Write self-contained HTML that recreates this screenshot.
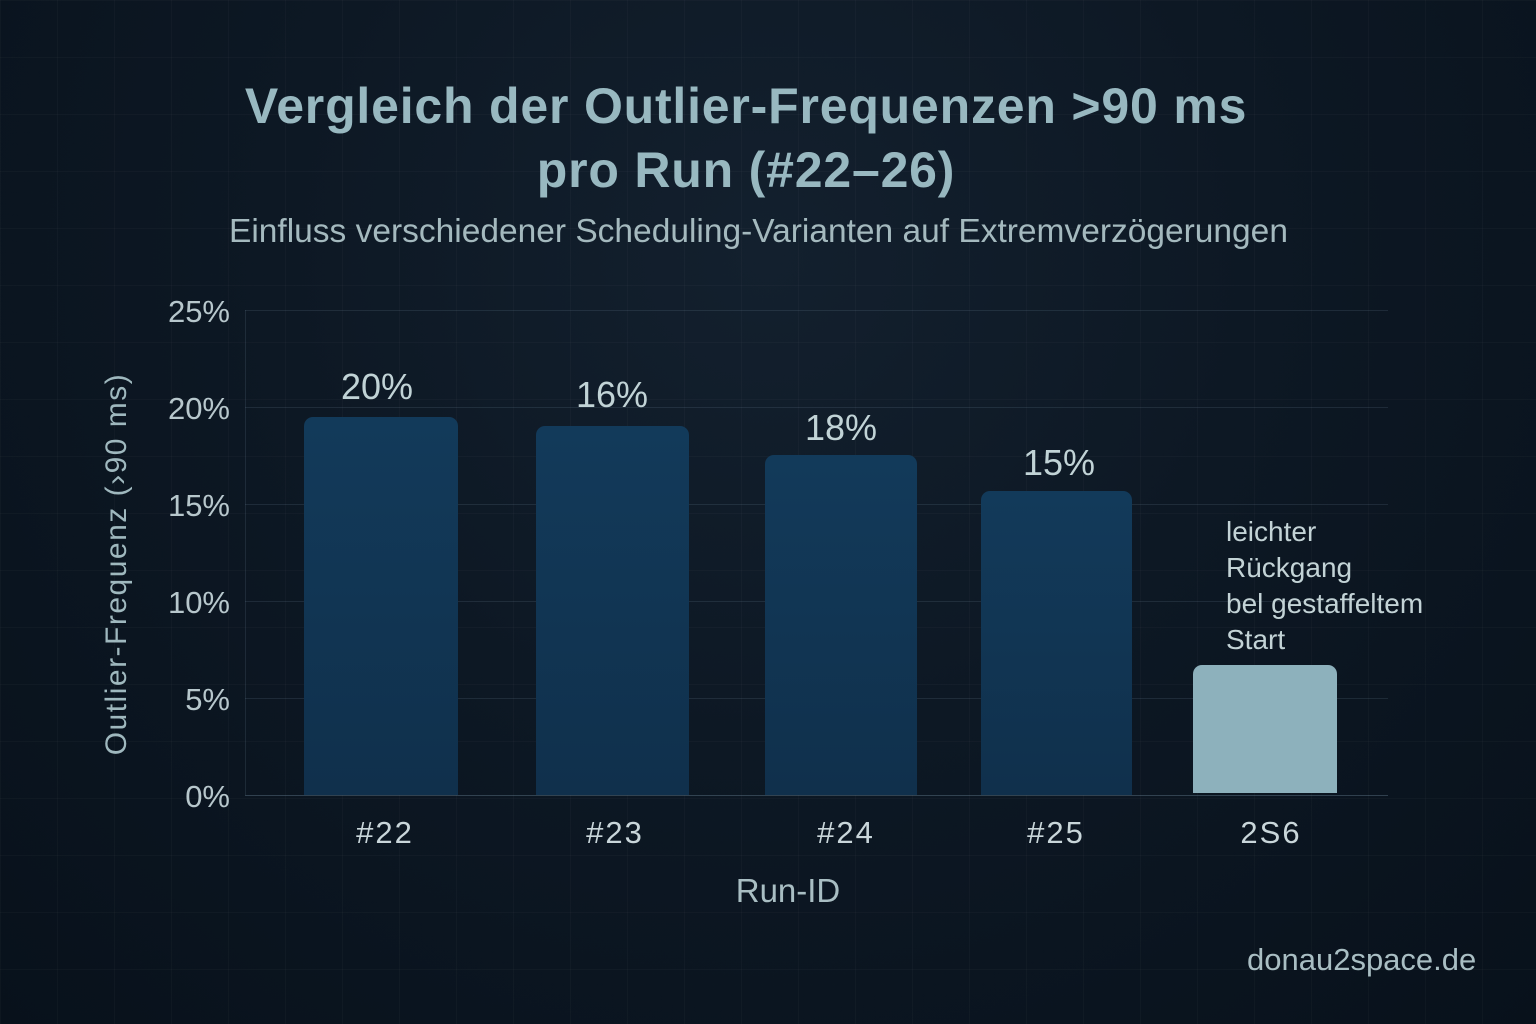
<!DOCTYPE html>
<html><head><meta charset="utf-8"><style>
html,body{margin:0;padding:0}
body{width:1536px;height:1024px;overflow:hidden;position:relative;font-family:"Liberation Sans",sans-serif;
background:radial-gradient(ellipse at 50% 25%,#13202e 0%,#0d1824 45%,#08111b 100%);}
.grid{position:absolute;inset:0;background-image:linear-gradient(rgba(255,255,255,0.025) 1px,transparent 1px),linear-gradient(90deg,rgba(255,255,255,0.025) 1px,transparent 1px);background-size:57px 57px;}
.t{position:absolute;color:#a9c4ca;white-space:nowrap}
.bar{position:absolute;border-radius:9px 9px 0 0;background:linear-gradient(#123a5a,#10304c)}
.hl{position:absolute;left:245px;width:1143px;height:1px;background:rgba(140,170,190,0.14)}
.yl{position:absolute;width:230px;left:0;text-align:right;font-size:31px;color:#b7c7cc}
.xl{position:absolute;font-size:31px;color:#c9d6da;width:160px;text-align:center;letter-spacing:2px}
.vl{position:absolute;font-size:36px;color:#c1d3d6;width:160px;text-align:center}
</style></head><body>
<div class="grid"></div>
<div class="t" style="left:0;width:1492px;text-align:center;top:74px;font-size:50px;letter-spacing:0.8px;font-weight:bold;color:#98b8c0;line-height:64px">Vergleich der Outlier-Frequenzen &gt;90 ms<br>pro Run (#22–26)</div>
<div class="t" style="left:229px;top:213px;font-size:33.5px;color:#a4b9be">Einfluss verschiedener Scheduling-Varianten auf Extremverzögerungen</div>
<div class="hl" style="top:310px"></div><div class="hl" style="top:407px"></div><div class="hl" style="top:504px"></div><div class="hl" style="top:601px"></div><div class="hl" style="top:698px"></div>
<div style="position:absolute;left:245px;top:310px;width:1px;height:485px;background:rgba(140,170,190,0.14)"></div>
<div class="hl" style="top:795px;background:rgba(140,170,190,0.3)"></div>
<div class="yl" style="top:294px">25%</div><div class="yl" style="top:391px">20%</div><div class="yl" style="top:488px">15%</div><div class="yl" style="top:585px">10%</div><div class="yl" style="top:682px">5%</div><div class="yl" style="top:779px">0%</div>
<div class="t" style="left:117px;top:564px;transform:translate(-50%,-50%) rotate(-90deg);font-size:30px;letter-spacing:1.5px;color:#9fb8be">Outlier-Frequenz (›90 ms)</div>
<div class="bar" style="left:304px;top:417px;width:154px;height:378px"></div>
<div class="bar" style="left:536px;top:426px;width:153px;height:369px"></div>
<div class="bar" style="left:765px;top:455px;width:152px;height:340px"></div>
<div class="bar" style="left:981px;top:491px;width:151px;height:304px"></div>
<div class="bar" style="left:1193px;top:665px;width:144px;height:128px;background:#8db1bc"></div>
<div class="vl" style="left:297px;top:366px">20%</div>
<div class="vl" style="left:532px;top:374px">16%</div>
<div class="vl" style="left:761px;top:407px">18%</div>
<div class="vl" style="left:979px;top:442px">15%</div>
<div class="t" style="left:1226px;top:514px;font-size:28px;line-height:36px;color:#c3d3d6">leichter<br>Rückgang<br>bel gestaffeltem<br>Start</div>
<div class="xl" style="left:305px;top:815px">#22</div>
<div class="xl" style="left:535px;top:815px">#23</div>
<div class="xl" style="left:766px;top:815px">#24</div>
<div class="xl" style="left:976px;top:815px">#25</div>
<div class="xl" style="left:1191px;top:815px">2S6</div>
<div class="t" style="left:0;width:1576px;text-align:center;top:872px;font-size:33px;color:#a9bec3">Run-ID</div>
<div class="t" style="left:1247px;top:942px;font-size:31px;color:#a9bec3">donau2space.de</div>
</body></html>
